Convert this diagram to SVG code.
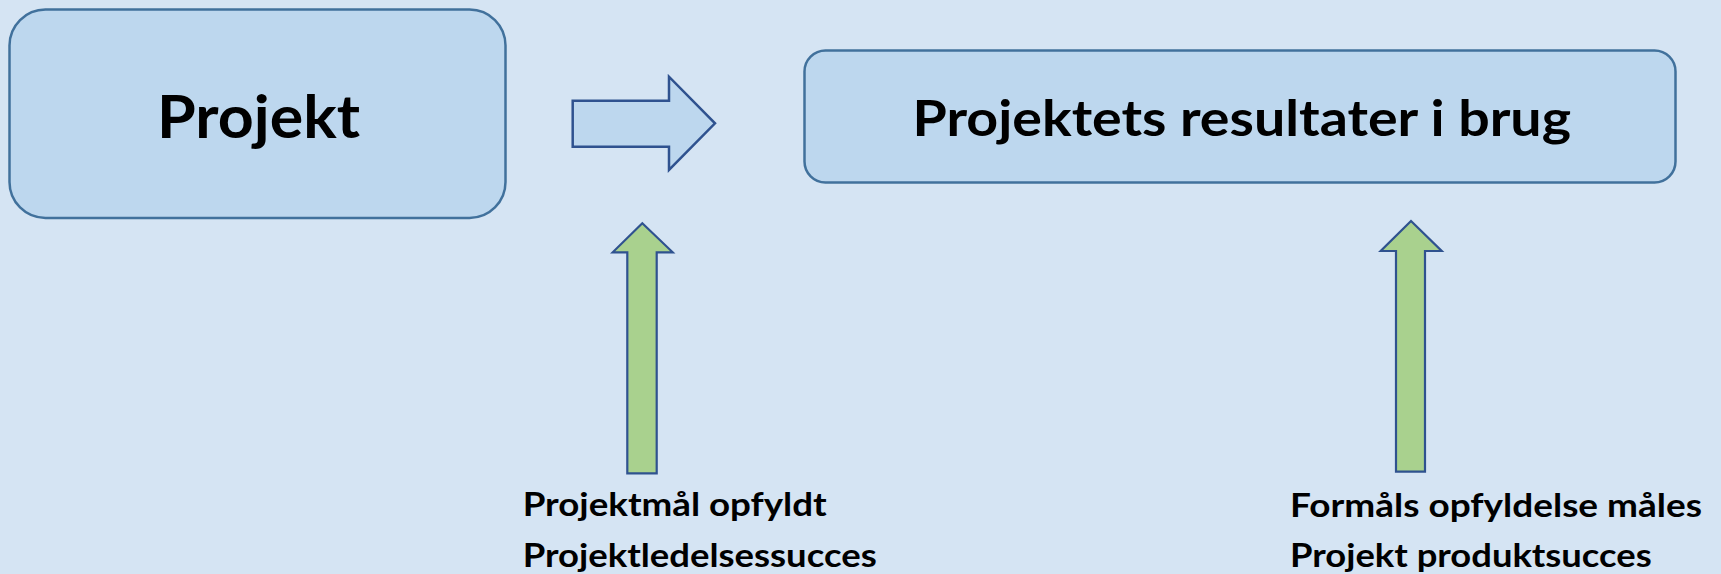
<svg xmlns="http://www.w3.org/2000/svg" width="1721" height="574" viewBox="0 0 1721 574">
  <style>
    .box { fill: #BDD7EE; stroke: #41719C; stroke-width: 2.5; }
    .flow { fill: #BDD7EE; stroke: #2F528F; stroke-width: 2.5; stroke-linejoin: miter; }
    .up { fill: #A9D18E; stroke: #2F528F; stroke-width: 2.2; stroke-linejoin: miter; }
    .t { font-family: Lato, "Liberation Sans", sans-serif; font-weight: bold; fill: #000; }
  </style>
  <rect width="1721" height="574" fill="#D5E4F3"/>

  <g id="node-projekt">
    <rect class="box" x="9.5" y="9.5" width="496" height="208.5" rx="36" ry="36"/>
    <text class="t" x="157" y="138" font-size="60" textLength="203" lengthAdjust="spacingAndGlyphs">Projekt</text>
  </g>

  <g id="node-resultater">
    <rect class="box" x="804.5" y="50.5" width="871" height="132" rx="21" ry="21"/>
    <text class="t" x="912.5" y="136" font-size="49" textLength="658.5" lengthAdjust="spacingAndGlyphs">Projektets resultater i brug</text>
  </g>

  <g id="connectors">
    <!-- block arrow from project to results -->
    <path class="flow" d="M572.7,100.7 H669 V76.7 L715,123.3 L669,170 V146.7 H572.7 Z"/>
    <!-- upward arrow: project success -->
    <path class="up" d="M627.3,473.3 V252.3 H612.7 L642.3,223.3 L672.7,252.3 H656.7 V473.3 Z"/>
    <!-- upward arrow: product success -->
    <path class="up" d="M1396,471.7 V251 H1380.7 L1411,221 L1441.7,251 H1425 V471.7 Z" stroke-width="1.8"/>
  </g>

  <g id="label-projektledelse">
    <text class="t" x="522.7" y="516" font-size="32" textLength="304" lengthAdjust="spacingAndGlyphs">Projektmål opfyldt</text>
    <text class="t" x="522.7" y="566.7" font-size="32" textLength="354" lengthAdjust="spacingAndGlyphs">Projektledelsessucces</text>
  </g>

  <g id="label-produkt">
    <text class="t" x="1290" y="516.7" font-size="32" textLength="412" lengthAdjust="spacingAndGlyphs">Formåls opfyldelse måles</text>
    <text class="t" x="1290" y="566.7" font-size="32" textLength="361.7" lengthAdjust="spacingAndGlyphs">Projekt produktsucces</text>
  </g>
</svg>
